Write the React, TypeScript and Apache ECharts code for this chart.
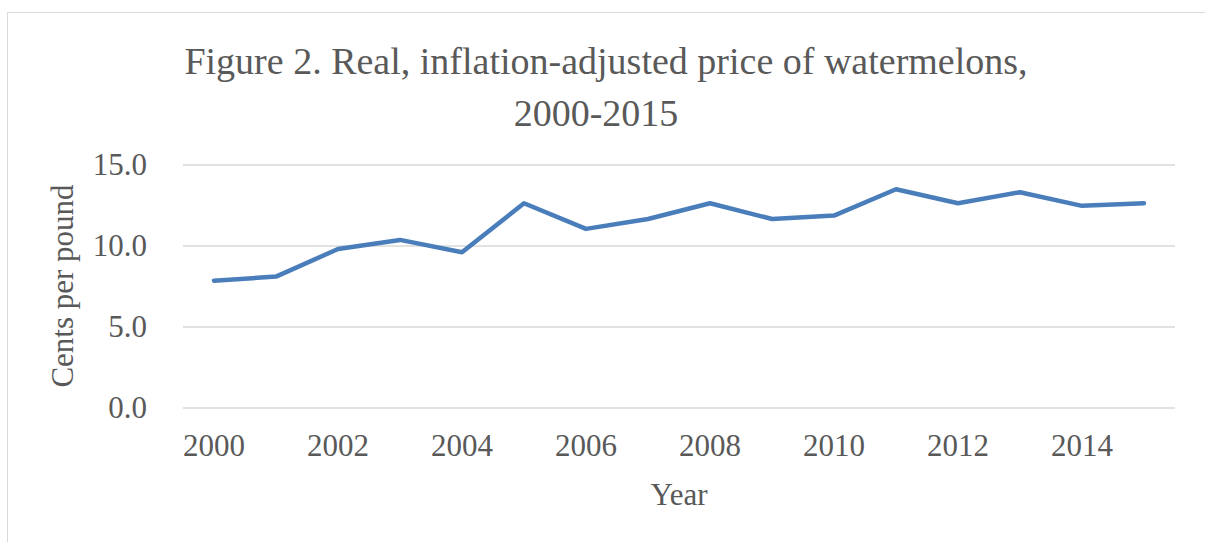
import React, { useEffect, useRef } from "react";
import * as echarts from "echarts";

const years = ["2000","2001","2002","2003","2004","2005","2006","2007","2008","2009","2010","2011","2012","2013","2014","2015"];
const prices = [7.83, 8.08, 9.78, 10.34, 9.58, 12.6, 11.02, 11.63, 12.6, 11.63, 11.84, 13.46, 12.6, 13.28, 12.44, 12.6];
const titleLines = ["Figure 2. Real, inflation-adjusted price of watermelons,", "2000-2015"];
const yName = "Cents per pound";
const xName = "Year";

const FONT = "'Liberation Serif', 'Times New Roman', serif";
const TEXT = "#595959";

export default function App() {
  const ref = useRef<HTMLDivElement>(null);
  useEffect(() => {
    if (!ref.current) return;
    const chart = echarts.init(ref.current, null, { renderer: "svg" });
    chart.setOption({
      animation: false,
      backgroundColor: "#ffffff",
      textStyle: { fontFamily: FONT },
      graphic: [
        {
          type: "rect",
          shape: { x: 7.5, y: 12.5, width: 1400, height: 700 },
          style: { fill: "none", stroke: "#d9d9d9", lineWidth: 1 },
          silent: true,
        },
        {
          type: "text",
          x: 606,
          y: 61,
          style: { text: titleLines[0], fontSize: 38, fontFamily: FONT, fill: TEXT, align: "center", verticalAlign: "middle" },
        },
        {
          type: "text",
          x: 596,
          y: 113,
          style: { text: titleLines[1], fontSize: 38, fontFamily: FONT, fill: TEXT, align: "center", verticalAlign: "middle" },
        },
      ],
      grid: { left: 183, right: 30, top: 164.3, bottom: 134.3, containLabel: false },
      xAxis: {
        type: "category",
        data: years,
        boundaryGap: true,
        axisLine: { show: false },
        axisTick: { show: false },
        axisLabel: { interval: 1, color: TEXT, fontSize: 31, fontFamily: FONT, margin: 22 },
        name: xName,
        nameLocation: "middle",
        nameGap: 71,
        nameTextStyle: { color: TEXT, fontSize: 31, fontFamily: FONT },
      },
      yAxis: {
        type: "value",
        min: 0,
        max: 15,
        interval: 5,
        axisLine: { show: false },
        axisTick: { show: false },
        splitLine: { lineStyle: { color: "#d9d9d9", width: 1.5 } },
        axisLabel: { color: TEXT, fontSize: 31, fontFamily: FONT, margin: 36, formatter: (v: number) => v.toFixed(1) },
        name: yName,
        nameLocation: "middle",
        nameGap: 105,
        nameRotate: 90,
        nameTextStyle: { color: TEXT, fontSize: 31, fontFamily: FONT },
      },
      series: [
        {
          type: "line",
          data: prices,
          symbol: "none",
          lineStyle: { color: "#4a7ebb", width: 4.5, cap: "round", join: "round" },
        },
      ],
    });
    return () => chart.dispose();
  }, []);
  return <div ref={ref} style={{ position: "fixed", left: 0, top: 0, width: 1205, height: 542 }} />;
}
